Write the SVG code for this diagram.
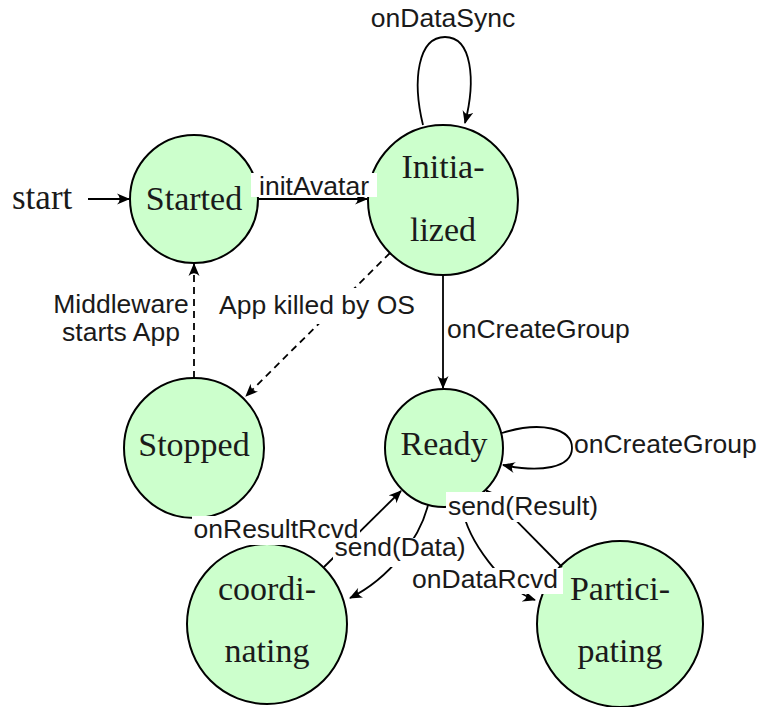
<svg xmlns="http://www.w3.org/2000/svg" width="760" height="707" viewBox="0 0 760 707">
<defs>
<style>
.state{fill:#ccffcc;stroke:#000;stroke-width:2}
.nl{font-family:"Liberation Serif","Times New Roman",serif;font-size:34px;fill:#1a1a1a;text-anchor:middle}
.el{font-family:"Liberation Sans",Arial,sans-serif;font-size:26.5px;fill:#1a1a1a}
.e{fill:none;stroke:#000;stroke-width:1.8;marker-end:url(#arr)}
.d{stroke-dasharray:7 5}
.bg{fill:#fff;stroke:none}
</style>
<marker id="arr" viewBox="0 0 13 12" refX="12" refY="6" markerWidth="13" markerHeight="12" markerUnits="userSpaceOnUse" orient="auto">
<path d="M13,6 L0,0.5 Q5.5,6 0,11.5 Z" fill="#000"/>
</marker>
</defs>
<rect width="760" height="707" fill="#fff"/>

<g id="start">
<text x="12" y="209" font-family="Liberation Serif,serif" font-size="35" fill="#1a1a1a">start</text>
</g>
<g id="started">
<circle class="state" cx="194" cy="199" r="64"/>
<text class="nl" x="194" y="210">Started</text>
</g>
<g id="initialized">
<circle class="state" cx="443" cy="200" r="75"/>
<text class="nl" x="443" y="178">Initia-</text>
<text class="nl" x="443" y="241">lized</text>
</g>
<g id="stopped">
<circle class="state" cx="194" cy="448" r="70"/>
<text class="nl" x="194" y="456">Stopped</text>
</g>
<g id="ready">
<circle class="state" cx="444" cy="448" r="59"/>
<text class="nl" x="444" y="455">Ready</text>
</g>
<g id="coordinating">
<circle class="state" cx="267" cy="624" r="80"/>
<text class="nl" x="267" y="600">coordi-</text>
<text class="nl" x="267" y="662">nating</text>
</g>
<g id="participating">
<circle class="state" cx="620" cy="624" r="83"/>
<text class="nl" x="620" y="600">Partici-</text>
<text class="nl" x="620" y="662">pating</text>
</g>

<g id="connectors">
<path class="e" d="M88,199 L129,199"/>
<path class="e" d="M258,199 L367,199"/>
<path class="e" d="M423,125 C412,80 418,37 445,37 C472,37 476,80 465,123"/>
<path class="e" d="M443,275 L443,388"/>
<path class="e d" d="M390,253 L246,396"/>
<path class="e d" d="M194,378 L194,264"/>
<path class="e" d="M502,433 C540,421 572,428 572,448 C572,468 540,473 503,465"/>
<path class="e" d="M324,567 L401,491"/>
<path class="e" d="M428,505 C420,538 390,578 350,598"/>
<path class="e" d="M462,505 C466,540 505,590 535,600"/>
<path class="e" d="M562,567 L486,490"/>

<rect class="bg" x="251" y="173" width="126" height="24"/>
<text class="el" x="314" y="195" text-anchor="middle">initAvatar</text>
<text class="el" x="443" y="27" text-anchor="middle">onDataSync</text>
<text class="el" x="447" y="338">onCreateGroup</text>
<rect class="bg" x="211" y="288" width="212" height="36"/>
<text class="el" x="317" y="314" text-anchor="middle">App killed by OS</text>
<text class="el" x="121" y="313" text-anchor="middle">Middleware</text>
<text class="el" x="121" y="341" text-anchor="middle">starts App</text>
<text class="el" x="574" y="453">onCreateGroup</text>
<rect class="bg" x="192" y="516" width="168" height="29"/>
<rect class="bg" x="333" y="538" width="134" height="29"/>
<text class="el" x="276" y="538" text-anchor="middle">onResultRcvd</text>
<text class="el" x="400" y="556" text-anchor="middle">send(Data)</text>
<rect class="bg" x="446" y="492" width="154" height="30"/>
<text class="el" x="523" y="515" text-anchor="middle">send(Result)</text>
<rect class="bg" x="407" y="568" width="156" height="26"/>
<text class="el" x="485" y="588" text-anchor="middle">onDataRcvd</text>
</g>
</svg>
